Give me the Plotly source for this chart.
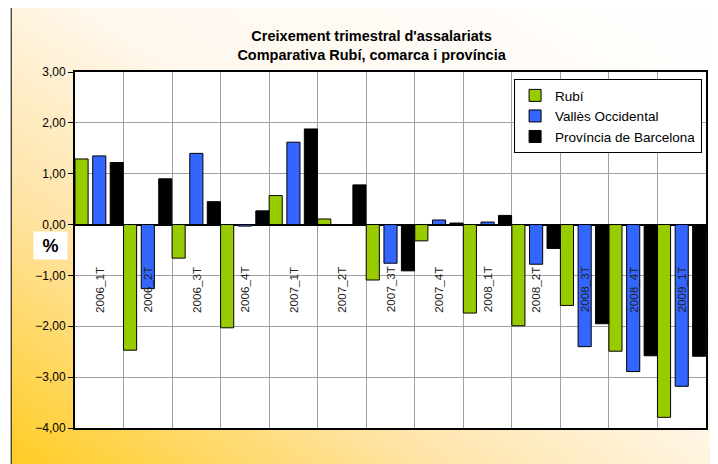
import base64
import plotly.graph_objects as go

# Dades: creixement trimestral d'assalariats (%)
trimestres = ['2006_1T', '2006_2T', '2006_3T', '2006_4T', '2007_1T', '2007_2T', '2007_3T',
              '2007_4T', '2008_1T', '2008_2T', '2008_3T', '2008_4T', '2009_1T']
rubi = [1.29, -2.47, -0.66, -2.03, 0.57, 0.11, -1.09, -0.32, -1.74, -1.99, -1.59, -2.49, -3.79]
valles = [1.35, -1.26, 1.40, -0.03, 1.62, 0.0, -0.76, 0.09, 0.05, -0.78, -2.40, -2.89, -3.18]
provincia = [1.22, 0.90, 0.45, 0.27, 1.88, 0.78, -0.91, 0.03, 0.18, -0.47, -1.95, -2.58, -2.59]

series = [('Rubí', rubi, '#99CC00', -0.5),
          ('Vallès Occidental', valles, '#3366FF', -0.135),
          ('Província de Barcelona', provincia, '#000000', 0.225)]

FONT = 'Arial, Liberation Sans, sans-serif'

# fons degradat (cantonada inferior esquerra groga -> blanc)
svg = ('<svg xmlns="http://www.w3.org/2000/svg" width="100" height="100" preserveAspectRatio="none">'
       '<defs><linearGradient id="g" x1="0" y1="1" x2="1" y2="0">'
       '<stop offset="0" stop-color="#FFCC22"/>'
       '<stop offset="0.3" stop-color="#FFE4A8"/>'
       '<stop offset="0.55" stop-color="#FFF8EE"/>'
       '<stop offset="1" stop-color="#FFFFFF"/>'
       '</linearGradient></defs><rect width="100" height="100" fill="url(#g)"/></svg>')
svg_uri = 'data:image/svg+xml;base64,' + base64.b64encode(svg.encode()).decode()

fig = go.Figure()

for nom, vals, color, off in series:
    fig.add_trace(go.Bar(
        x=trimestres, y=vals, name=nom,
        marker=dict(color=color, line=dict(color='black', width=1)),
        offset=off, width=0.27))

# etiquetes dels trimestres dins del gràfic
for t in trimestres:
    fig.add_annotation(x=t, y=-1.28, xref='x', yref='y', text=t, textangle=-90,
                       showarrow=False, font=dict(family=FONT, size=11.7, color='#222222'))

fig.add_annotation(x=-0.0671, y=0.514, xref='paper', yref='paper', text='<b>%</b>',
                   showarrow=False, bgcolor='white', width=31, height=25,
                   font=dict(family=FONT, size=18, color='black'))

# la pàgina html afegeix 8px de marge al body
fig.update_layout(
    width=702, height=456,
    margin=dict(l=67, r=2, t=64, b=36),
    paper_bgcolor='white',
    plot_bgcolor='white',
    barmode='overlay',
    separators=',.',
    font=dict(family=FONT, size=12, color='black'),
    title=dict(text="<b>Creixement trimestral d'assalariats<br>Comparativa Rubí, comarca i província</b>",
               x=0.47, xref='paper', xanchor='center', y=0.9276, yanchor='middle',
               font=dict(family=FONT, size=14.5, color='black')),
    legend=dict(x=0.9938, xanchor='right', y=0.98, yanchor='top',
                bgcolor='white', bordercolor='black', borderwidth=1,
                font=dict(family=FONT, size=13.5, color='black')),
    images=[dict(source=svg_uri, xref='paper', yref='paper', x=-0.1011, y=1.1966,
                 sizex=1.13, sizey=1.3034, xanchor='left', yanchor='top',
                 sizing='stretch', layer='below')],
    shapes=[dict(type='rect', xref='paper', yref='paper', x0=0, x1=1, y0=0, y1=1,
                 fillcolor='white', line=dict(width=0), layer='below'),
            dict(type='rect', xref='paper', yref='paper', x0=-0.1011, x1=1.02,
                 y0=-0.13, y1=1.1966, line=dict(color='black', width=1), layer='above')],
)

fig.update_xaxes(type='category', range=[-0.5, 12.5], tickson='boundaries',
                 showgrid=True, gridcolor='#A0A0A0', gridwidth=1,
                 showticklabels=False, ticks='',
                 showline=True, linecolor='black', linewidth=2, mirror=True)
fig.update_yaxes(range=[-4, 3], dtick=1, tickformat='.2f',
                 showgrid=True, gridcolor='#A0A0A0', gridwidth=1,
                 zeroline=True, zerolinecolor='black', zerolinewidth=2,
                 ticks='outside', ticklen=5, tickcolor='black',
                 tickfont=dict(family=FONT, size=12, color='black'),
                 showline=True, linecolor='black', linewidth=2, mirror=True)

fig.write_html("out.html")
